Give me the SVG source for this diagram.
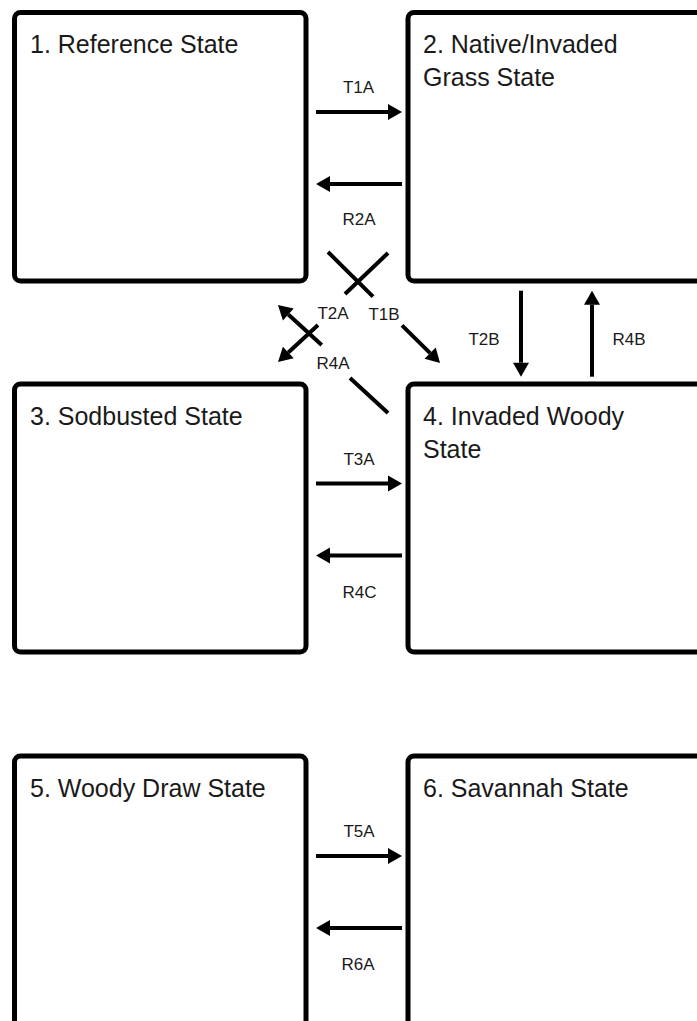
<svg xmlns="http://www.w3.org/2000/svg" width="697" height="1021" viewBox="0 0 697 1021">
<style>
.box{fill:#fff;stroke:#000;stroke-width:5}
.title{font-family:"Liberation Sans",Arial,sans-serif;font-size:25px;fill:#1a1a1a}
.lbl{font-family:"Liberation Sans",Arial,sans-serif;font-size:17px;fill:#1a1a1a;text-anchor:middle}
.arr{fill:none;stroke:#000;stroke-width:4;marker-end:url(#ah)}
</style>
<defs>
<marker id="ah" markerUnits="userSpaceOnUse" markerWidth="16" markerHeight="16" refX="0" refY="8" orient="auto" overflow="visible">
<path d="M0,0 L14,8 L0,16 z" fill="#000"/>
</marker>
</defs>
<rect width="697" height="1021" fill="#fff"/>
<g id="node1"><rect class="box" x="14.5" y="12.5" width="291.5" height="268.5" rx="6"/><text class="title" x="30" y="53">1. Reference State</text></g>
<g id="node2"><rect class="box" x="408" y="12.5" width="320" height="268.5" rx="6"/><text class="title" x="423" y="53">2. Native/Invaded</text><text class="title" x="423" y="86">Grass State</text></g>
<g id="node3"><rect class="box" x="14.5" y="384" width="291.5" height="268" rx="6"/><text class="title" x="30" y="424.5">3. Sodbusted State</text></g>
<g id="node4"><rect class="box" x="408" y="384" width="320" height="268" rx="6"/><text class="title" x="423" y="424.5">4. Invaded Woody</text><text class="title" x="423" y="457.5">State</text></g>
<g id="node5"><rect class="box" x="14.5" y="756" width="291.5" height="300" rx="6"/><text class="title" x="30" y="796.5">5. Woody Draw State</text></g>
<g id="node6"><rect class="box" x="408" y="756" width="320" height="300" rx="6"/><text class="title" x="423" y="796.5">6. Savannah State</text></g>
<g id="connectors">
<path class="arr" d="M316,112 L388,112"/>
<path class="arr" d="M402,184 L330,184"/>
<path class="arr" d="M521,290.7 L521,362.7"/>
<path class="arr" d="M592,376.7 L592,304.7"/>
<path class="arr" d="M328,252 L373,296.6 M402,325.3 L430.1,353.1"/>
<path class="arr" d="M388,253 L345,294 M318,325 L288.3,352.5"/>
<path class="arr" d="M388,413 L350,378 M321.7,345 L288.3,314.5"/>
<path class="arr" d="M316,483.5 L388,483.5"/>
<path class="arr" d="M402,555.5 L330,555.5"/>
<path class="arr" d="M316,856 L388,856"/>
<path class="arr" d="M402,928 L330,928"/>
<text class="lbl" x="358.5" y="93">T1A</text>
<text class="lbl" x="359" y="225">R2A</text>
<text class="lbl" x="484" y="345">T2B</text>
<text class="lbl" x="629" y="345">R4B</text>
<text class="lbl" x="333" y="319">T2A</text>
<text class="lbl" x="384" y="320">T1B</text>
<text class="lbl" x="333" y="369">R4A</text>
<text class="lbl" x="359" y="465">T3A</text>
<text class="lbl" x="359.5" y="598">R4C</text>
<text class="lbl" x="359" y="837">T5A</text>
<text class="lbl" x="358" y="969.5">R6A</text>
</g>
</svg>
